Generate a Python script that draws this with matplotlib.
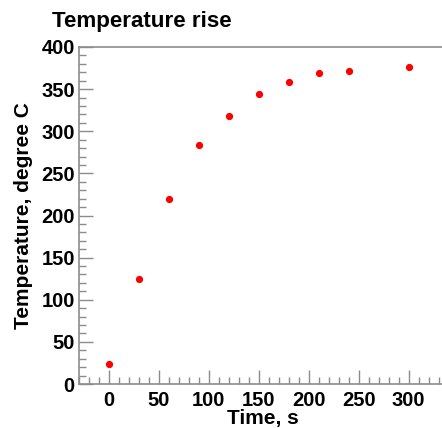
import matplotlib
matplotlib.use("Agg")
import matplotlib.pyplot as plt
from matplotlib.ticker import MultipleLocator

plt.rcParams['font.family'] = ['Liberation Sans', 'DejaVu Sans']
plt.rcParams['font.weight'] = 'bold'

# measurements
time_s = [0, 30, 60, 90, 120, 150, 180, 210, 240, 300]
temp_c = [24, 125, 219, 284, 318, 344, 358, 369, 372, 376]

fig = plt.figure(figsize=(4.42, 4.28), dpi=100)
ax = fig.add_axes([79/442, 44/428, 368/442, 337/428])

ax.plot(time_s, temp_c, 'o', color='red', ms=4.2, mec='red')

ax.set_xlim(-30, 338.5)
ax.set_ylim(0, 400)
ax.xaxis.set_major_locator(MultipleLocator(50))
ax.xaxis.set_minor_locator(MultipleLocator(10))
ax.yaxis.set_major_locator(MultipleLocator(50))
ax.yaxis.set_minor_locator(MultipleLocator(10))

axis_col = '#8c8c8c'
for side in ['top', 'left', 'bottom', 'right']:
    ax.spines[side].set_color(axis_col)
    ax.spines[side].set_linewidth(1.2)
ax.tick_params(which='both', direction='in', color=axis_col, width=1.0,
               top=False, right=False, labelsize=14.5)
ax.tick_params(which='major', length=10)
ax.tick_params(axis='x', which='major', pad=5)
ax.tick_params(axis='y', which='major', pad=3)
ax.tick_params(which='minor', length=5)
for lbl in ax.get_xticklabels() + ax.get_yticklabels():
    lbl.set_fontweight('bold')

ax.set_xlabel('Time, s', fontsize=15, fontweight='bold', labelpad=-1)
ax.set_ylabel('Temperature, degree C', fontsize=15, fontweight='bold', labelpad=6)

fig.text(52/442, 1 - 27/428, 'Temperature rise', fontsize=16.1,
         fontweight='bold', va='baseline', ha='left')

fig.savefig('out.png', dpi=100)
